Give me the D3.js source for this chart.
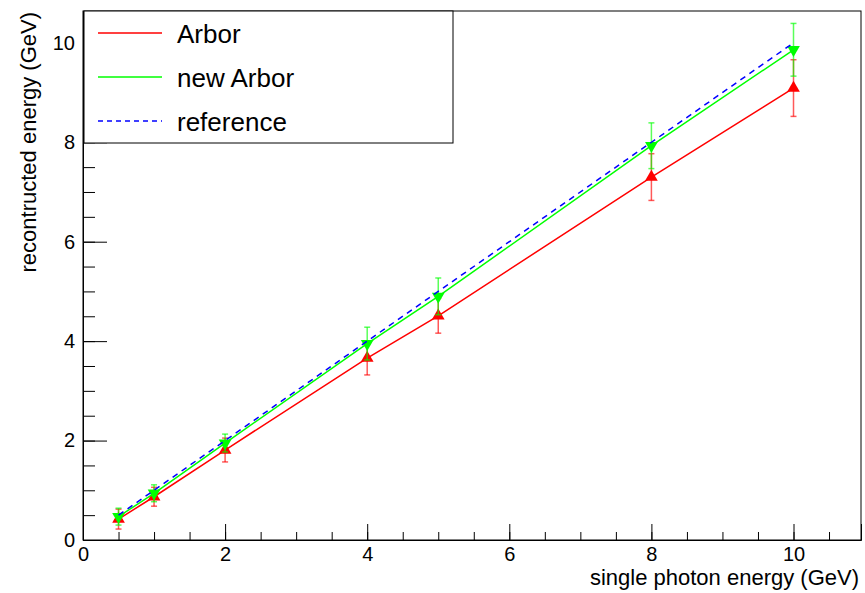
<!DOCTYPE html>
<html>
<head>
<meta charset="utf-8">
<script src="https://cdn.jsdelivr.net/npm/d3@7"></script>
<style>
  body { margin: 0; background: #fff; }
  text { font-family: "Liberation Sans", Arial, Helvetica, sans-serif; }
</style>
</head>
<body>
<script>
// photon energies (GeV)
var energies = [0.5, 1, 2, 4, 5, 8, 10];
// Arbor reconstructed energy and error
var arbor = [0.42, 0.87, 1.81, 3.66, 4.51, 7.30, 9.09];
var arborErr = [0.20, 0.19, 0.24, 0.34, 0.35, 0.47, 0.57];
// new Arbor
var newArbor = [0.47, 0.94, 1.95, 3.95, 4.90, 7.93, 9.86];
var newArborErr = [0.17, 0.17, 0.18, 0.33, 0.37, 0.46, 0.53];
// reference: reconstructed == true
var reference = [0.5, 1, 2, 4, 5, 8, 10];

var xTicks = [0, 2, 4, 6, 8, 10];
var yTicks = [0, 2, 4, 6, 8, 10];

var width = 865, height = 593;
var padL = 83, padR = 861, padT = 11, padB = 540;

var svg = d3.select("body").append("svg")
  .attr("width", width)
  .attr("height", height);

var x = d3.scaleLinear().domain([0, 10.95]).range([padL, padR]);
var y = d3.scaleLinear().domain([0, 10.64]).range([padB, padT]);

// frame
svg.append("rect")
  .attr("x", padL).attr("y", padT)
  .attr("width", padR - padL).attr("height", padB - padT)
  .attr("fill", "none").attr("stroke", "#000").attr("stroke-width", 1);

// x axis (ticks pointing inside, ROOT style)
var xMinor = svg.append("g").attr("transform", "translate(0," + padB + ")")
  .call(d3.axisBottom(x).tickValues(d3.range(0, 10.95, 0.5)).tickSize(-8).tickFormat(""));
xMinor.select(".domain").remove();
var xAxis = svg.append("g").attr("transform", "translate(0," + padB + ")")
  .call(d3.axisBottom(x).tickValues(xTicks).tickSize(-16).tickPadding(7).tickFormat(d3.format("d")));
xAxis.select(".domain").attr("stroke", "#000");
xAxis.selectAll("text").attr("font-size", 20).attr("fill", "#000")
  .attr("font-family", "Liberation Sans, Arial, sans-serif");

// y axis
var yMinor = svg.append("g").attr("transform", "translate(" + padL + ",0)")
  .call(d3.axisLeft(y).tickValues(d3.range(0, 10.64, 0.5)).tickSize(-12).tickFormat(""));
yMinor.select(".domain").remove();
var yAxis = svg.append("g").attr("transform", "translate(" + padL + ",0)")
  .call(d3.axisLeft(y).tickValues(yTicks).tickSize(-24).tickPadding(8).tickFormat(d3.format("d")));
yAxis.select(".domain").attr("stroke", "#000");
yAxis.selectAll("text").attr("font-size", 20).attr("fill", "#000")
  .attr("font-family", "Liberation Sans, Arial, sans-serif");

// axis titles
svg.append("text")
  .attr("x", 859).attr("y", 585)
  .attr("text-anchor", "end")
  .attr("font-size", 22)
  .text("single photon energy (GeV)");
svg.append("text")
  .attr("transform", "translate(36,12) rotate(-90)")
  .attr("text-anchor", "end")
  .attr("font-size", 22)
  .text("recontructed energy (GeV)");

var line = d3.line()
  .x(function(d) { return x(d[0]); })
  .y(function(d) { return y(d[1]); });

function drawSeries(vals, errs, color, down) {
  var pts = energies.map(function(e, i) { return [e, vals[i], errs[i]]; });
  var g = svg.append("g");
  // error bars
  g.selectAll("line.err").data(pts).enter().append("line")
    .attr("x1", function(d) { return x(d[0]); })
    .attr("x2", function(d) { return x(d[0]); })
    .attr("y1", function(d) { return y(d[1] - d[2]); })
    .attr("y2", function(d) { return y(d[1] + d[2]); })
    .attr("stroke", color).attr("stroke-opacity", 0.65).attr("stroke-width", 1.5);
  [-1, 1].forEach(function(s) {
    g.selectAll("line.cap" + s).data(pts).enter().append("line")
      .attr("x1", function(d) { return x(d[0]) - 3; })
      .attr("x2", function(d) { return x(d[0]) + 3; })
      .attr("y1", function(d) { return y(d[1] + s * d[2]); })
      .attr("y2", function(d) { return y(d[1] + s * d[2]); })
      .attr("stroke", color).attr("stroke-opacity", 0.65).attr("stroke-width", 1.5);
  });
  g.append("path").datum(pts)
    .attr("d", line)
    .attr("fill", "none").attr("stroke", color).attr("stroke-width", 1.5);
  g.selectAll("path.mark").data(pts).enter().append("path")
    .attr("d", d3.symbol().type(d3.symbolTriangle).size(70))
    .attr("transform", function(d) {
      return "translate(" + x(d[0]) + "," + y(d[1]) + ")" + (down ? " rotate(180)" : "");
    })
    .attr("fill", color);
}

drawSeries(arbor, arborErr, "#ff0000", false);
drawSeries(newArbor, newArborErr, "#00ff00", true);

// reference line
svg.append("path")
  .datum(energies.map(function(e, i) { return [e, reference[i]]; }))
  .attr("d", line)
  .attr("fill", "none").attr("stroke", "#0000ff").attr("stroke-width", 1.5)
  .attr("stroke-dasharray", "6,5");

// legend
var legend = svg.append("g");
legend.append("rect")
  .attr("x", 84).attr("y", 11).attr("width", 369).attr("height", 132)
  .attr("fill", "#fff").attr("stroke", "#000").attr("stroke-width", 1);
var legItems = [
  { label: "Arbor", color: "#ff0000", dash: null, yy: 33 },
  { label: "new Arbor", color: "#00ff00", dash: null, yy: 77 },
  { label: "reference", color: "#0000ff", dash: "5,4", yy: 121 }
];
legItems.forEach(function(d) {
  legend.append("line")
    .attr("x1", 98).attr("x2", 162).attr("y1", d.yy).attr("y2", d.yy)
    .attr("stroke", d.color).attr("stroke-width", 1.6)
    .attr("stroke-dasharray", d.dash);
  legend.append("text")
    .attr("x", 177).attr("y", d.yy + 9.5)
    .attr("font-size", 26)
    .text(d.label);
});
</script>
</body>
</html>
